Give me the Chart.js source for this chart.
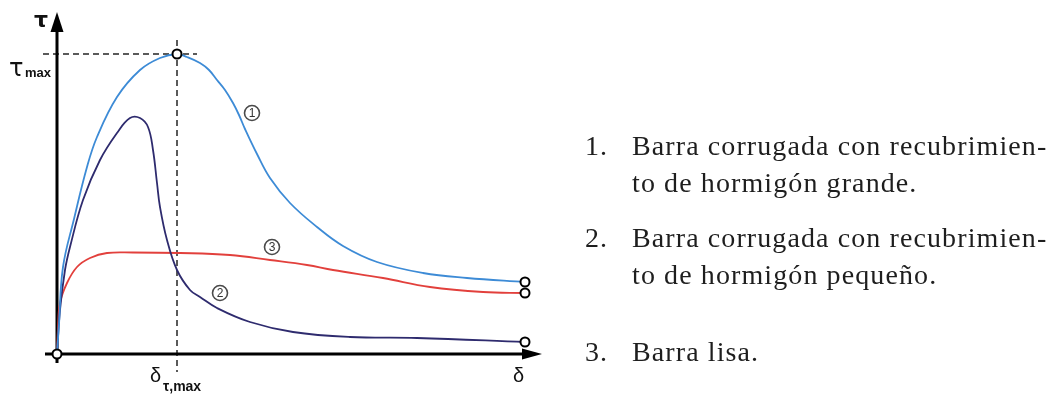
<!DOCTYPE html>
<html lang="es">
<head>
<meta charset="utf-8">
<title>Curvas de adherencia τ–δ</title>
<script src="https://cdn.jsdelivr.net/npm/chart.js@4/dist/chart.umd.min.js"></script>
<style>
  html, body { margin: 0; padding: 0; background: #fff; }
  body { width: 1051px; height: 394px; position: relative; overflow: hidden; }
  #plot { position: absolute; left: 0; top: 0; }
  .notes {
    position: absolute; left: 585px; top: 127px;
    font-family: "Liberation Serif", "DejaVu Serif", serif;
    font-size: 28px; line-height: 37px; color: #1e1e1e;
    letter-spacing: 1.1px;
  }
  .item { display: grid; grid-template-columns: 47px auto; }
  .item.second { margin-top: 18px; }
  .item.last { margin-top: 40px; }
</style>
</head>
<body>
<canvas id="plot" width="1051" height="394"></canvas>
<div class="notes">
  <div class="item"><span>1.</span><span>Barra corrugada con recubrimien-<br>to de hormigón grande.</span></div>
  <div class="item second"><span>2.</span><span>Barra corrugada con recubrimien-<br>to de hormigón pequeño.</span></div>
  <div class="item last"><span>3.</span><span>Barra lisa.</span></div>
</div>
<script>
// Bond stress τ against slip δ (arbitrary units)
const deltaMax = 48.5;
const tauMax = 34.2;

// 1: deformed bar, large concrete cover
const curve1 = [
  [0, 0], [0.2, 3.0], [0.6, 8.7], [1.7, 13.5], [3.0, 18.7], [4.0, 21.7],
  [6.0, 25.7], [8.3, 28.4], [10.3, 29.6], [12.0, 30.0], [13.0, 29.7],
  [14.3, 29.1], [15.2, 28.4], [16.0, 27.4], [16.8, 26.4], [17.6, 25.1],
  [18.2, 23.9], [18.8, 22.5], [20.0, 20.0], [21.3, 17.6], [23.3, 15.1],
  [26.0, 12.7], [28.6, 10.8], [32.0, 9.2], [36.6, 8.1], [41.0, 7.6], [46.8, 7.2]
];
// 2: deformed bar, small concrete cover
const curve2 = [
  [0, 0], [0.3, 4.4], [0.8, 8.4], [1.3, 10.7], [2.6, 15.4], [4.3, 19.4],
  [6.0, 22.1], [7.3, 23.6], [8.3, 23.6], [9.1, 22.7], [9.6, 20.4],
  [10.0, 17.1], [10.3, 14.7], [11.0, 11.4], [12.0, 8.4], [13.3, 6.4],
  [14.3, 5.7], [16.0, 4.6], [19.3, 3.2], [23.6, 2.2], [29.3, 1.7],
  [36.0, 1.6], [46.8, 1.2]
];
// 3: plain bar
const curve3 = [
  [0, 0], [0.1, 2.6], [0.3, 5.1], [1.0, 7.1], [2.0, 8.7], [3.3, 9.6],
  [5.0, 10.1], [7.6, 10.15], [12.3, 10.1], [17.3, 9.9], [21.3, 9.4],
  [25.0, 8.9], [27.6, 8.4], [32.6, 7.6], [37.3, 6.7], [42.6, 6.2], [46.8, 6.1]
];

const curveNames = ['1', '2', '3'];
const curveMarks = ['①', '②', '③'];
// anchor (δ, τ) of each circled number
const markAnchors = [[19.5, 24.1], [16.3, 6.1], [21.5, 10.7]];

const toPoints = arr => arr.map(([x, y]) => ({ x, y }));
const peakIndex = curve1.reduce((best, p, i) => (p[1] > curve1[best][1] ? i : best), 0);

function endMarker(arr, extra) {
  return ctx => (ctx.dataIndex === arr.length - 1 || (extra || []).includes(ctx.dataIndex)) ? 4.5 : 0;
}

// axes, arrows, reference lines and labels
const sketchPlugin = {
  id: 'sketch',
  beforeDatasetsDraw(chart) {
    const { ctx, scales: { x, y } } = chart;
    const x0 = x.getPixelForValue(0), y0 = y.getPixelForValue(0);
    const xEnd = x.getPixelForValue(deltaMax), yEnd = y.getPixelForValue(tauMax);
    const px = x.getPixelForValue(curve1[peakIndex][0]);
    const py = y.getPixelForValue(curve1[peakIndex][1]);
    ctx.save();
    // dashed guides through the peak
    ctx.strokeStyle = '#5a5a5a';
    ctx.lineWidth = 2;
    ctx.setLineDash([6, 4]);
    ctx.beginPath();
    ctx.moveTo(x0 - 14, py); ctx.lineTo(px + 20, py);
    ctx.moveTo(px, py - 14); ctx.lineTo(px, y0 + 18);
    ctx.stroke();
    ctx.setLineDash([]);
    // axes
    ctx.strokeStyle = '#000';
    ctx.fillStyle = '#000';
    ctx.lineWidth = 3;
    ctx.beginPath();
    ctx.moveTo(x0 - 12, y0); ctx.lineTo(xEnd - 16, y0);
    ctx.moveTo(x0, y0 + 9); ctx.lineTo(x0, yEnd + 16);
    ctx.stroke();
    ctx.beginPath();
    ctx.moveTo(xEnd, y0); ctx.lineTo(xEnd - 20, y0 - 5.5); ctx.lineTo(xEnd - 20, y0 + 5.5);
    ctx.closePath(); ctx.fill();
    ctx.beginPath();
    ctx.moveTo(x0, yEnd); ctx.lineTo(x0 - 6.5, yEnd + 20); ctx.lineTo(x0 + 6.5, yEnd + 20);
    ctx.closePath(); ctx.fill();
    // axis labels
    ctx.fillStyle = '#111';
    ctx.textBaseline = 'alphabetic';
    ctx.textAlign = 'left';
    ctx.font = 'bold 22px "DejaVu Sans", sans-serif';
    ctx.fillText('τ', x0 - 23, yEnd + 15);
    ctx.font = '24px "DejaVu Sans", sans-serif';
    ctx.fillText('τ', x0 - 48, py + 22);
    ctx.font = 'bold 13px "Liberation Sans", Arial, sans-serif';
    ctx.fillText('max', x0 - 32, py + 23);
    ctx.font = '20px "Liberation Sans", Arial, sans-serif';
    ctx.fillText('δ', px - 27, y0 + 28);
    ctx.font = 'bold 14px "Liberation Sans", Arial, sans-serif';
    ctx.fillText('τ,max', px - 14, y0 + 37);
    ctx.font = '20px "Liberation Sans", Arial, sans-serif';
    ctx.fillText('δ', xEnd - 29, y0 + 28);
    ctx.restore();
  },
  afterDatasetsDraw(chart) {
    const { ctx, scales: { x, y } } = chart;
    ctx.save();
    markAnchors.forEach(([mx, my], i) => {
      const cx = x.getPixelForValue(mx), cy = y.getPixelForValue(my);
      ctx.beginPath();
      ctx.arc(cx, cy, 7.5, 0, Math.PI * 2);
      ctx.fillStyle = '#fff';
      ctx.fill();
      ctx.strokeStyle = '#4a4a4a';
      ctx.lineWidth = 1.6;
      ctx.stroke();
      ctx.fillStyle = '#333';
      ctx.font = '12px "Liberation Sans", Arial, sans-serif';
      ctx.textAlign = 'center';
      ctx.textBaseline = 'middle';
      ctx.fillText(curveNames[i], cx, cy + 0.5);
    });
    ctx.restore();
  }
};

const lineStyle = {
  borderWidth: 1.8,
  tension: 0.4,
  cubicInterpolationMode: 'default',
  pointBackgroundColor: '#fff',
  pointBorderColor: '#000',
  pointBorderWidth: 2,
  pointHoverRadius: 0
};

new Chart(document.getElementById('plot'), {
  type: 'line',
  data: {
    datasets: [
      { label: curveMarks[0], data: toPoints(curve1), borderColor: '#3d8bd6',
        pointRadius: endMarker(curve1, [0, peakIndex]), ...lineStyle },
      { label: curveMarks[1], data: toPoints(curve2), borderColor: '#2e2b6e',
        pointRadius: endMarker(curve2), ...lineStyle },
      { label: curveMarks[2], data: toPoints(curve3), borderColor: '#e2403c',
        pointRadius: endMarker(curve3), ...lineStyle }
    ]
  },
  options: {
    responsive: false,
    animation: false,
    devicePixelRatio: 1,
    layout: { padding: { left: 57, right: 509, top: 12, bottom: 40 } },
    scales: {
      x: { type: 'linear', min: 0, max: deltaMax, display: false },
      y: { type: 'linear', min: 0, max: tauMax, display: false }
    },
    plugins: { legend: { display: false }, tooltip: { enabled: false } },
    clip: false
  },
  plugins: [sketchPlugin]
});
</script>
</body>
</html>
